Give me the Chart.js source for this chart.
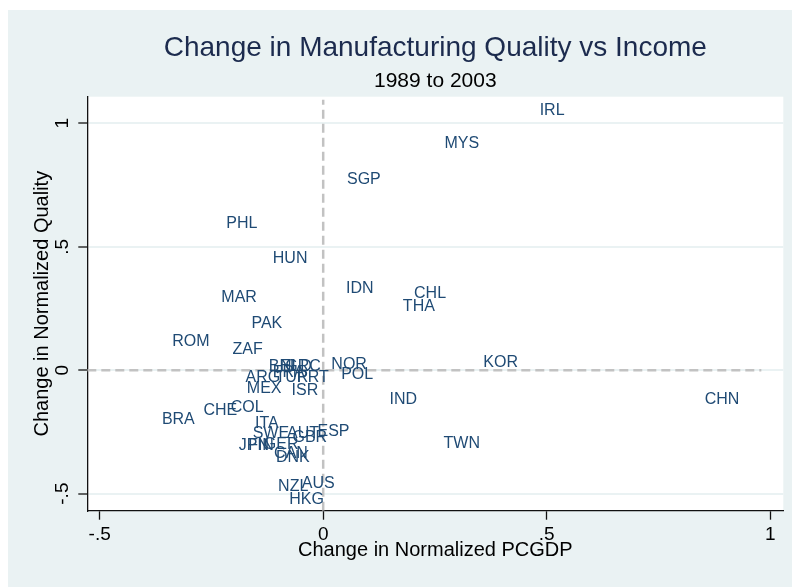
<!DOCTYPE html>
<html>
<head>
<meta charset="utf-8">
<script src="https://cdn.jsdelivr.net/npm/chart.js@4.4.1/dist/chart.umd.min.js"></script>
<style>
html,body{margin:0;padding:0;background:#fff;}
#wrap{width:792px;height:587px;position:relative;}
</style>
</head>
<body>
<div id="wrap"><canvas id="c" width="792" height="587"></canvas></div>
<script>
// ---- data ----
const countries = ["IRL","MYS","SGP","PHL","HUN","IDN","CHL","THA","MAR","PAK","ROM","ZAF","NOR","POL","KOR","CHN","IND","TWN","ISR","MEX","COL","CHE","BRA","ITA","ARG","BEL","NLD","GRC","FRA","TUR","PRT","SWE","AUT","ESP","GBR","GER","JPN","FIN","CAN","DNK","NZL","AUS","HKG"];
const pcgdpChange = [0.512,0.310,0.091,-0.182,-0.074,0.082,0.239,0.214,-0.188,-0.126,-0.296,-0.169,0.058,0.076,0.397,0.892,0.179,0.310,-0.041,-0.132,-0.170,-0.230,-0.324,-0.126,-0.135,-0.088,-0.061,-0.045,-0.077,-0.070,-0.023,-0.117,-0.045,0.023,-0.030,-0.094,-0.155,-0.139,-0.072,-0.068,-0.067,-0.011,-0.037];
const qualityChange = [1.051,0.919,0.770,0.595,0.453,0.332,0.309,0.256,0.295,0.187,0.115,0.082,0.024,-0.019,0.032,-0.121,-0.121,-0.299,-0.084,-0.073,-0.150,-0.164,-0.199,-0.218,-0.029,0.013,0.013,0.013,-0.011,-0.032,-0.032,-0.255,-0.255,-0.249,-0.271,-0.300,-0.304,-0.304,-0.339,-0.356,-0.472,-0.458,-0.523];
const xTickValues = [-0.5, 0, 0.5, 1];
const xTickLabels = ["-.5", "0", ".5", "1"];
const yTickValues = [-0.5, 0, 0.5, 1];
const yTickLabels = ["-.5", "0", ".5", "1"];
const xRange = [-0.5276, 1.0291];
const yRange = [-0.5691, 1.1077];
const vRefLine = [{x:0, y:-0.5691}, {x:0, y:1.095}];
const hRefLine = [{x:-0.5276, y:0}, {x:0.98, y:0}];

const FONT = "'Liberation Sans', Arial, sans-serif";
const points = countries.map((c,i)=>({x:pcgdpChange[i], y:qualityChange[i]}));

const bgPlugin = {
  id:'bg',
  beforeDraw(chart){
    const {ctx, chartArea:a} = chart;
    ctx.save();
    ctx.fillStyle = '#EAF2F3';
    ctx.fillRect(8, 10, chart.width-8, chart.height-10);
    ctx.fillStyle = '#FFFFFF';
    ctx.fillRect(a.left, a.top, a.right-a.left, a.bottom-a.top);
    ctx.restore();
  }
};

const labelPlugin = {
  id:'mlabels',
  afterDatasetsDraw(chart){
    const meta = chart.getDatasetMeta(2);
    const ctx = chart.ctx;
    ctx.save();
    ctx.font = "16px " + FONT;
    ctx.fillStyle = '#1F4A74';
    ctx.textAlign = 'center';
    ctx.textBaseline = 'middle';
    meta.data.forEach((el,i)=>{
      ctx.fillText(countries[i], el.x, el.y);
    });
    ctx.restore();
  }
};

new Chart(document.getElementById('c'), {
  type:'scatter',
  data:{
    datasets:[
      {data:vRefLine, showLine:true, pointRadius:0, borderColor:'#C2C2C2', borderWidth:2.5, borderDash:[9,5], fill:false},
      {data:hRefLine, showLine:true, pointRadius:0, borderColor:'#C2C2C2', borderWidth:2.5, borderDash:[9,5], fill:false},
      {data:points, pointRadius:0, pointHoverRadius:0, showLine:false}
    ]
  },
  options:{
    responsive:false,
    animation:false,
    devicePixelRatio:1,
    layout:{padding:{left:0, right:8.7, top:0, bottom:0}},
    plugins:{
      legend:{display:false},
      tooltip:{enabled:false},
      title:{display:true, text:'Change in Manufacturing Quality vs Income', fullSize:false,
        color:'#1C2B4E', font:{family:FONT, size:28, weight:'normal', lineHeight:1.2}, padding:{top:31.2, bottom:0}},
      subtitle:{display:true, text:'1989 to 2003', fullSize:false,
        color:'#000000', font:{family:FONT, size:21, weight:'normal', lineHeight:1.2}, padding:{top:4.1, bottom:2.6}}
    },
    scales:{
      x:{
        type:'linear', min:xRange[0], max:xRange[1],
        afterBuildTicks(s){ s.ticks = xTickValues.map(v=>({value:v})); },
        afterFit(s){ s.height = 76.3; },
        ticks:{ callback:(v,i)=>xTickLabels[i], color:'#000', font:{family:FONT, size:19}, padding:4, maxRotation:0, minRotation:0, autoSkip:false },
        grid:{ drawOnChartArea:false, drawTicks:true, tickLength:9, tickColor:'#111', tickWidth:1.3 },
        border:{ display:true, color:'#111', width:1.3 },
        title:{ display:true, text:'Change in Normalized PCGDP', color:'#000', font:{family:FONT, size:20, lineHeight:1.2}, padding:{top:0, bottom:25} }
      },
      y:{
        type:'linear', min:yRange[0], max:yRange[1],
        afterBuildTicks(s){ s.ticks = yTickValues.map(v=>({value:v})); },
        afterFit(s){ s.width = 87.3; },
        ticks:{ callback:(v,i)=>yTickLabels[i], color:'#000', font:{family:FONT, size:19}, padding:4, minRotation:90, maxRotation:90, crossAlign:'center', autoSkip:false },
        grid:{ color:'#EAF2F3', lineWidth:2, drawTicks:true, tickLength:9, tickColor:'#111', tickWidth:1.3 },
        border:{ display:true, color:'#111', width:1.3 },
        title:{ display:true, text:'Change in Normalized Quality', color:'#000', font:{family:FONT, size:20, lineHeight:1.2}, padding:{top:30, bottom:0} }
      }
    }
  },
  plugins:[bgPlugin, labelPlugin]
});
</script>
</body>
</html>
